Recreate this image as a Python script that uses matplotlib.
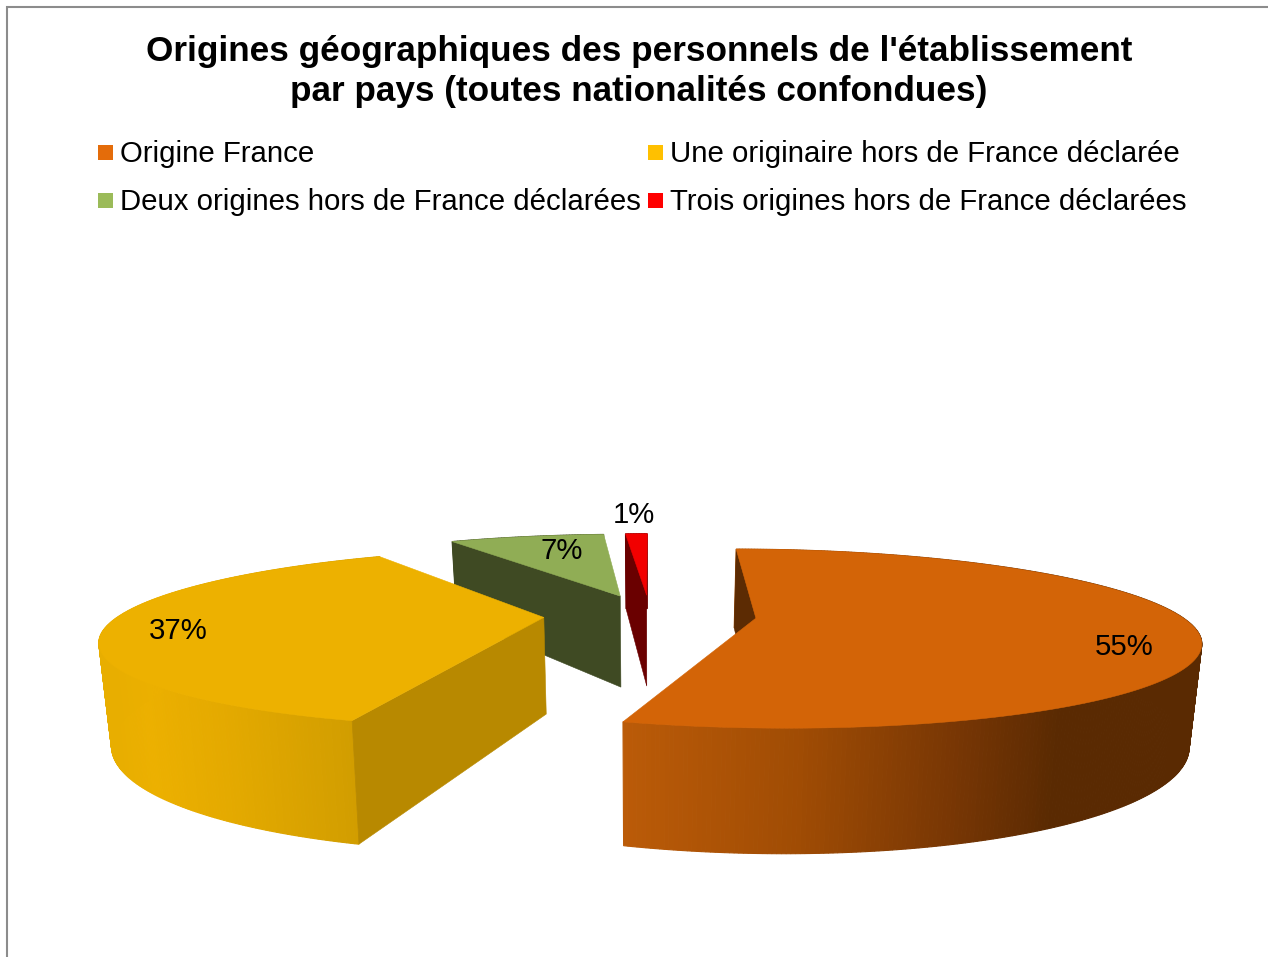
"""Exploded 3D pie: origines geographiques des personnels."""

import numpy as np
import matplotlib
matplotlib.use("Agg")
import matplotlib.pyplot as plt
from matplotlib.colors import to_rgb
from matplotlib.patches import Polygon, Rectangle

plt.rcParams["font.family"] = ["Liberation Sans", "DejaVu Sans"]

# ---------- DATA ----------
CATEGORIES = [
    "Origine France",
    "Une originaire hors de France déclarée",
    "Deux origines hors de France déclarées",
    "Trois origines hors de France déclarées",
]
SHARES = [54.8, 36.7, 7.45, 1.05]
TITLE_LINES = [
    "Origines géographiques des personnels de l'établissement",
    "par pays (toutes nationalités confondues)",
]

LEGEND_COLORS = ["#E46C0A", "#FFC000", "#9BBB59", "#FF0000"]
TOP_COLORS = ["#D36407", "#EDB100", "#90AD55", "#F20000"]
WALL_COLORS = ["#5C2B03", "#B88900", "#3F4A23", "#6A0000"]

# ---------- PROJECTION SETTINGS (screen pixels) ----------
CX, CY = 650, 615
A, P, K = 424, 83.4, 0.2268   # width, height, perspective of the disc
DEPTH = 96
BOTTOM_SHRINK = 0.023
EXPLODE = 0.2505


def project(u, v, z=0.0):
    """World disc coordinates to pixels; z=1 is the bottom of the pie."""
    u, v = np.asarray(u, float), np.asarray(v, float)
    s = 1 / (1 - K * v)
    x = CX + A * u * s * (1 - BOTTOM_SHRINK * z)
    y = CY + P * v * s + DEPTH * s * z
    return x, y


def wall_color(stops, x):
    """Colour of the outer wall at pixel column x."""
    xs = [p[0] for p in stops]
    rgb = np.array([to_rgb(p[1]) for p in stops])
    return tuple(np.interp(x, xs, rgb[:, i]) for i in range(3))


ORANGE_STOPS = [(622, "#BB5B08"), (800, "#A04C04"), (960, "#773604"), (1060, "#5A2A02"), (1200, "#5A2A02")]
YELLOW_STOPS = [(108, "#E8AE00"), (145, "#ECB000"), (230, "#E3A900"), (355, "#D19D00")]
OUTER_STOPS = [ORANGE_STOPS, YELLOW_STOPS, [(0, WALL_COLORS[2]), (1268, WALL_COLORS[2])],
               [(0, WALL_COLORS[3]), (1268, WALL_COLORS[3])]]


def draw_slice(ax, i, start, end):
    mid = np.radians((start + end) / 2)
    u0, v0 = EXPLODE * np.sin(mid), -EXPLODE * np.cos(mid)
    theta = np.radians(np.linspace(start, end, int((end - start) * 2) + 2))
    u = u0 + np.sin(theta)
    v = v0 - np.cos(theta)

    # outer wall, cut in thin strips for the shading
    xt, yt = project(u, v)
    xb, yb = project(u, v, 1)
    for j in range(len(theta) - 1):
        quad = [(xt[j], yt[j]), (xt[j + 1], yt[j + 1]), (xb[j + 1], yb[j + 1]), (xb[j], yb[j])]
        c = wall_color(OUTER_STOPS[i], (xt[j] + xt[j + 1]) / 2)
        ax.add_patch(Polygon(quad, closed=True, fc=c, ec=c, lw=0.8))

    # flat wall along the starting radius
    ax0, ay0 = project(u0, v0)
    bx0, by0 = project(u0, v0, 1)
    wall = [(ax0, ay0), (xt[0], yt[0]), (xb[0], yb[0]), (bx0, by0)]
    ax.add_patch(Polygon(wall, closed=True, fc=WALL_COLORS[i], ec=WALL_COLORS[i], lw=0.4))

    # top face
    top = [(ax0, ay0)] + list(zip(xt, yt))
    ax.add_patch(Polygon(top, closed=True, fc=TOP_COLORS[i], ec=TOP_COLORS[i], lw=0.4))


def main():
    fig = plt.figure(figsize=(12.68, 9.57), dpi=100)
    ax = fig.add_axes([0, 0, 1, 1])
    ax.set_xlim(0, 1268)
    ax.set_ylim(957, 0)
    ax.axis("off")

    # chart frame, cropped on the right and at the bottom
    ax.plot([7, 7, 1268], [957, 7, 7], color="#8C8C8C", lw=1.5, solid_joinstyle="miter")

    for line, y in zip(TITLE_LINES, [51, 91]):
        ax.text(639, y, line, ha="center", va="center", fontsize=25.3, fontweight="bold", color="black")

    # legend, two rows of two
    legend_x = [98, 648]
    legend_y = [152, 200]
    for i, name in enumerate(CATEGORIES):
        x = legend_x[i % 2]
        y = legend_y[i // 2]
        ax.add_patch(Rectangle((x, y - 7.5), 15, 15, fc=LEGEND_COLORS[i], ec="none"))
        ax.text(x + 22, y + 2, name, ha="left", va="center", fontsize=21.2, color="black")

    edges = np.concatenate([[0], np.cumsum(SHARES)]) * 3.6
    for i in [2, 3, 0, 1]:
        draw_slice(ax, i, edges[i], edges[i + 1])

    label_pos = [(1124, 647), (178, 631), (562, 551), (634, 515)]
    for share, (x, y) in zip(SHARES, label_pos):
        ax.text(x, y, f"{share:.0f}%", ha="center", va="center", fontsize=21.2, color="black")

    fig.savefig("out.png", dpi=100)


if __name__ == "__main__":
    main()
